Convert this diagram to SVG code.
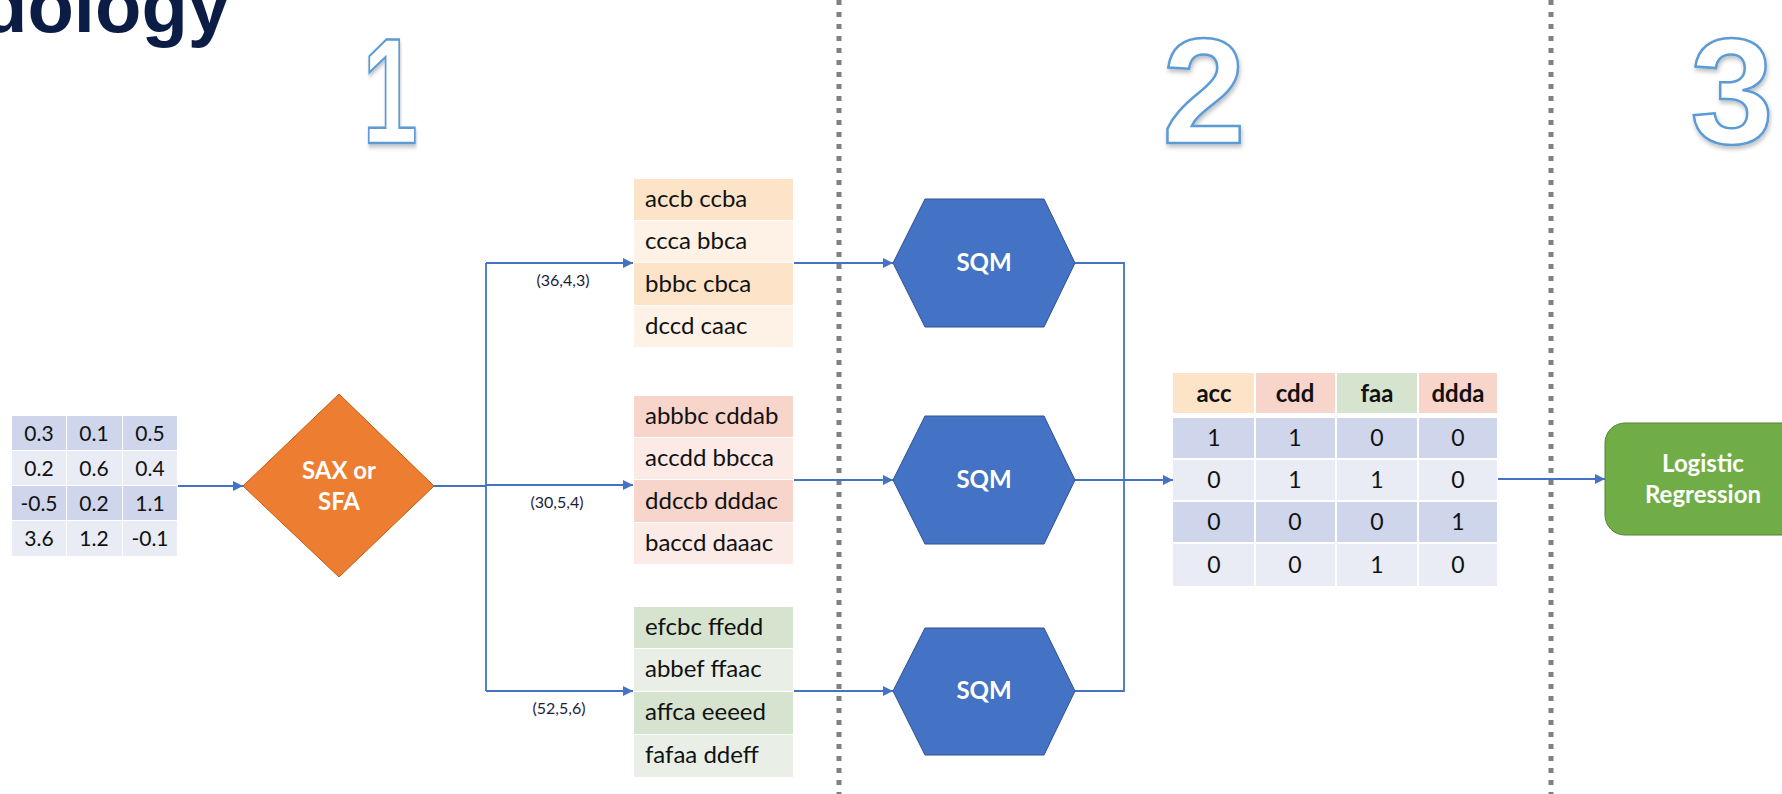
<svg xmlns="http://www.w3.org/2000/svg" width="1782" height="794" viewBox="0 0 1782 794">
<style>
.cell{font-family:Lato,"Open Sans","Liberation Sans",sans-serif;font-size:21px;fill:#111;}
.num{text-anchor:middle;}
.fnum{font-size:23px;}
.hdr{font-weight:bold;text-anchor:middle;font-size:24px;}
.word{font-size:24px;}
.lbl{font-family:Lato,"Liberation Sans",sans-serif;font-size:16px;fill:#1c1c40;text-anchor:middle;}
.wt{font-family:Lato,"Open Sans","Liberation Sans",sans-serif;font-weight:bold;fill:#fff;text-anchor:middle;}
.big{font-family:"Liberation Sans",Arial,sans-serif;font-weight:bold;font-size:150px;fill:#fff;stroke:#5b9bd5;stroke-width:2.5;text-anchor:middle;filter:url(#sh);}
.conn{fill:none;stroke:#4472c4;stroke-width:1.8;}
.arr{marker-end:url(#ah);}
.dots{stroke:#808080;stroke-width:5;stroke-dasharray:5 7;}
.dk{fill:#cfd5ea;} .lt{fill:#e9ebf5;}
.o1{fill:#fde4c9;} .o2{fill:#fef1e5;}
.r1{fill:#f8d5cb;} .r2{fill:#fbeae5;}
.g1{fill:#d6e3cf;} .g2{fill:#e9efe6;}
.hex{fill:#4472c4;stroke:#2f528f;stroke-width:1;}
</style>
<defs>
<marker id="ah" viewBox="0 0 10 10" refX="10" refY="5" markerWidth="10" markerHeight="10" markerUnits="userSpaceOnUse" orient="auto">
<path d="M0,0 L10,5 L0,10 z" fill="#4472c4"/>
</marker>
<filter id="sh" x="-20%" y="-20%" width="140%" height="140%">
<feDropShadow dx="1" dy="3" stdDeviation="2" flood-color="#000" flood-opacity="0.25"/>
</filter>
</defs>
<rect width="1782" height="794" fill="#fff"/>

<text x="-19" y="32" font-family="'Liberation Sans',Arial,sans-serif" font-weight="bold" font-size="76" fill="#0b1c45">dology</text>

<g id="step-numbers">
<text class="big" x="0" y="0" transform="translate(390,143) scale(0.66,1)">1</text>
<text class="big" x="1204" y="143">2</text>
<text class="big" x="1732" y="143">3</text>
</g>

<g id="separators">
<line class="dots" x1="839" y1="0" x2="839" y2="794"/>
<line class="dots" x1="1551" y1="0" x2="1551" y2="794"/>
</g>

<g id="connectors">
<path class="conn arr" d="M178,486 L243,486"/>
<path class="conn" d="M434,486 L486,486 M486,263 L486,691"/>
<path class="conn arr" d="M486,263 L633,263"/>
<path class="conn arr" d="M486,485 L633,485"/>
<path class="conn arr" d="M486,691 L633,691"/>
<path class="conn arr" d="M794,263 L893,263"/>
<path class="conn arr" d="M794,480 L893,480"/>
<path class="conn arr" d="M794,691 L893,691"/>
<path class="conn" d="M1075,263 L1124,263 L1124,691 L1075,691"/>
<path class="conn arr" d="M1075,480 L1173,480"/>
<path class="conn arr" d="M1498,479 L1605,479"/>
<text class="lbl" x="563" y="286">(36,4,3)</text>
<text class="lbl" x="557" y="508">(30,5,4)</text>
<text class="lbl" x="559" y="714">(52,5,6)</text>
</g>

<g id="input-table">
<rect class="dk" x="12" y="416" width="54" height="34"/><rect class="dk" x="67" y="416" width="55" height="34"/><rect class="dk" x="123" y="416" width="54" height="34"/>
<rect class="lt" x="12" y="451" width="54" height="34"/><rect class="lt" x="67" y="451" width="55" height="34"/><rect class="lt" x="123" y="451" width="54" height="34"/>
<rect class="dk" x="12" y="486" width="54" height="34"/><rect class="dk" x="67" y="486" width="55" height="34"/><rect class="dk" x="123" y="486" width="54" height="34"/>
<rect class="lt" x="12" y="521" width="54" height="35"/><rect class="lt" x="67" y="521" width="55" height="35"/><rect class="lt" x="123" y="521" width="54" height="35"/>
<text class="cell num" x="39" y="441">0.3</text><text class="cell num" x="94" y="441">0.1</text><text class="cell num" x="150" y="441">0.5</text>
<text class="cell num" x="39" y="476">0.2</text><text class="cell num" x="94" y="476">0.6</text><text class="cell num" x="150" y="476">0.4</text>
<text class="cell num" x="39" y="511">-0.5</text><text class="cell num" x="94" y="511">0.2</text><text class="cell num" x="150" y="511">1.1</text>
<text class="cell num" x="39" y="546">3.6</text><text class="cell num" x="94" y="546">1.2</text><text class="cell num" x="150" y="546">-0.1</text>
</g>

<g id="sax-sfa">
<polygon points="243,486 339,394 434,486 339,577" fill="#ed7d31" stroke="#c55a11" stroke-width="1"/>
<text class="wt" x="339" y="479" font-size="24">SAX or</text>
<text class="wt" x="339" y="510" font-size="24">SFA</text>
</g>

<g id="words-1">
<rect class="o1" x="634" y="179" width="159" height="41"/>
<rect class="o2" x="634" y="221" width="159" height="41"/>
<rect class="o1" x="634" y="263" width="159" height="42"/>
<rect class="o2" x="634" y="306" width="159" height="41"/>
<text class="cell word" x="645" y="207">accb ccba</text>
<text class="cell word" x="645" y="249">ccca bbca</text>
<text class="cell word" x="645" y="292">bbbc cbca</text>
<text class="cell word" x="645" y="334">dccd caac</text>
</g>

<g id="words-2">
<rect class="r1" x="634" y="396" width="159" height="41"/>
<rect class="r2" x="634" y="438" width="159" height="41"/>
<rect class="r1" x="634" y="480" width="159" height="42"/>
<rect class="r2" x="634" y="523" width="159" height="41"/>
<text class="cell word" x="645" y="424">abbbc cddab</text>
<text class="cell word" x="645" y="466">accdd bbcca</text>
<text class="cell word" x="645" y="509">ddccb dddac</text>
<text class="cell word" x="645" y="551">baccd daaac</text>
</g>

<g id="words-3">
<rect class="g1" x="634" y="607" width="159" height="41"/>
<rect class="g2" x="634" y="649" width="159" height="42"/>
<rect class="g1" x="634" y="692" width="159" height="42"/>
<rect class="g2" x="634" y="735" width="159" height="42"/>
<text class="cell word" x="645" y="635">efcbc ffedd</text>
<text class="cell word" x="645" y="677">abbef ffaac</text>
<text class="cell word" x="645" y="720">affca eeeed</text>
<text class="cell word" x="645" y="763">fafaa ddeff</text>
</g>

<g id="sqm-1">
<polygon class="hex" points="893,263 925,199 1044,199 1075,263 1044,327 925,327"/>
<text class="wt" x="984" y="271" font-size="24">SQM</text>
</g>
<g id="sqm-2">
<polygon class="hex" points="893,480 925,416 1044,416 1075,480 1044,544 925,544"/>
<text class="wt" x="984" y="488" font-size="24">SQM</text>
</g>
<g id="sqm-3">
<polygon class="hex" points="893,691 925,628 1044,628 1075,691 1044,755 925,755"/>
<text class="wt" x="984" y="699" font-size="24">SQM</text>
</g>

<g id="feature-table">
<rect class="o1" x="1173" y="373" width="81" height="40"/>
<rect class="r1" x="1256" y="373" width="79" height="40"/>
<rect class="g1" x="1337" y="373" width="80" height="40"/>
<rect class="r1" x="1419" y="373" width="78" height="40"/>
<text class="cell hdr" x="1214" y="402">acc</text>
<text class="cell hdr" x="1295" y="402">cdd</text>
<text class="cell hdr" x="1377" y="402">faa</text>
<text class="cell hdr" x="1458" y="402">ddda</text>
<rect class="dk" x="1173" y="418" width="81" height="40"/><rect class="dk" x="1256" y="418" width="79" height="40"/><rect class="dk" x="1337" y="418" width="80" height="40"/><rect class="dk" x="1419" y="418" width="78" height="40"/>
<rect class="lt" x="1173" y="460" width="81" height="40"/><rect class="lt" x="1256" y="460" width="79" height="40"/><rect class="lt" x="1337" y="460" width="80" height="40"/><rect class="lt" x="1419" y="460" width="78" height="40"/>
<rect class="dk" x="1173" y="502" width="81" height="40"/><rect class="dk" x="1256" y="502" width="79" height="40"/><rect class="dk" x="1337" y="502" width="80" height="40"/><rect class="dk" x="1419" y="502" width="78" height="40"/>
<rect class="lt" x="1173" y="544" width="81" height="42"/><rect class="lt" x="1256" y="544" width="79" height="42"/><rect class="lt" x="1337" y="544" width="80" height="42"/><rect class="lt" x="1419" y="544" width="78" height="42"/>
<text class="cell num fnum" x="1214" y="446">1</text><text class="cell num fnum" x="1295" y="446">1</text><text class="cell num fnum" x="1377" y="446">0</text><text class="cell num fnum" x="1458" y="446">0</text>
<text class="cell num fnum" x="1214" y="488">0</text><text class="cell num fnum" x="1295" y="488">1</text><text class="cell num fnum" x="1377" y="488">1</text><text class="cell num fnum" x="1458" y="488">0</text>
<text class="cell num fnum" x="1214" y="530">0</text><text class="cell num fnum" x="1295" y="530">0</text><text class="cell num fnum" x="1377" y="530">0</text><text class="cell num fnum" x="1458" y="530">1</text>
<text class="cell num fnum" x="1214" y="573">0</text><text class="cell num fnum" x="1295" y="573">0</text><text class="cell num fnum" x="1377" y="573">1</text><text class="cell num fnum" x="1458" y="573">0</text>
</g>

<g id="logistic-regression">
<rect x="1605" y="423" width="196" height="112" rx="20" fill="#70ad47" stroke="#548235" stroke-width="1"/>
<text class="wt" x="1703" y="472" font-size="24">Logistic</text>
<text class="wt" x="1703" y="503" font-size="24">Regression</text>
</g>
</svg>
